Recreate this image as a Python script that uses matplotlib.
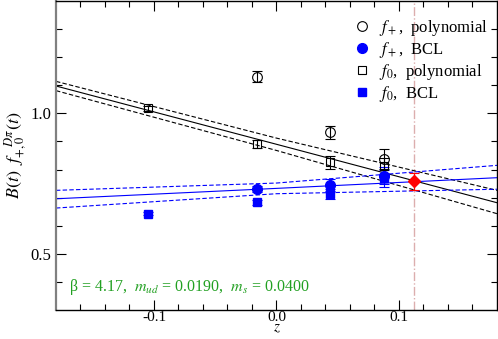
"""Form factors f_+ and f_0 vs z: polynomial and BCL fits at beta=4.17."""

import matplotlib

matplotlib.use("Agg")
import matplotlib.pyplot as plt
from matplotlib.lines import Line2D

plt.rcParams["font.family"] = ["Liberation Serif", "DejaVu Serif"]
plt.rcParams["mathtext.fontset"] = "stix"

# data points
z_fp = [-0.016, 0.044, 0.088]
fp_poly = [1.131, 0.933, 0.838]
fp_poly_err = [0.020, 0.023, 0.035]
fp_bcl = [0.730, 0.745, 0.778]
fp_bcl_err = [0.010, 0.020, 0.030]

z_f0 = [-0.105, -0.016, 0.044, 0.088]
f0_poly = [1.018, 0.890, 0.826, 0.812]
f0_poly_err = [0.010, 0.015, 0.024, 0.030]
f0_bcl = [0.643, 0.683, 0.714, 0.769]
f0_bcl_err = [0.006, 0.008, 0.018, 0.030]

z_phys = 0.112
f_phys = 0.758
f_phys_err = 0.029

# fit curves with error bands
z_fit = [-0.18, 0.0, 0.18]
poly_mid = [1.0975, 0.890, 0.682]
poly_hi = [1.114, 0.912, 0.726]
poly_lo = [1.081, 0.868, 0.643]
bcl_mid = [0.696, 0.733, 0.771]
bcl_hi = [0.726, 0.752, 0.815]
bcl_lo = [0.663, 0.714, 0.730]

fig = plt.figure(figsize=(4.98, 3.39), dpi=100)
ax = fig.add_axes([0.1124, 0.0855, 0.8855, 0.9115])

ax.axvline(z_phys, color="#dcaeae", lw=1.0, ls="-.")

ax.plot(z_fit, poly_mid, color="black", lw=0.8)
ax.plot(z_fit, poly_hi, color="black", lw=0.8, ls=(0, (4, 2)))
ax.plot(z_fit, poly_lo, color="black", lw=0.8, ls=(0, (4, 2)))
ax.plot(z_fit, bcl_mid, color="blue", lw=0.8)
ax.plot(z_fit, bcl_hi, color="blue", lw=0.8, ls=(0, (4, 2)))
ax.plot(z_fit, bcl_lo, color="blue", lw=0.8, ls=(0, (4, 2)))

ekw = dict(ls="none", elinewidth=0.8, capsize=3.5, capthick=0.8)
ax.errorbar(z_fp, fp_poly, yerr=fp_poly_err, marker="o", ms=7, mfc="none",
            mec="black", mew=0.8, color="black", **ekw)
ax.errorbar(z_fp, fp_bcl, yerr=fp_bcl_err, marker="o", ms=7, mfc="blue",
            mec="blue", color="blue", **ekw)
ax.errorbar(z_f0, f0_poly, yerr=f0_poly_err, marker="s", ms=6, mfc="none",
            mec="black", mew=0.8, color="black", **ekw)
ax.errorbar(z_f0, f0_bcl, yerr=f0_bcl_err, marker="s", ms=6, mfc="blue",
            mec="blue", color="blue", **ekw)
ax.errorbar([z_phys], [f_phys], yerr=[f_phys_err], marker="D", ms=6,
            mfc="red", mec="red", color="red", **ekw)

handles = [
    Line2D([], [], ls="none", marker="o", ms=7, mfc="none", mec="black", mew=0.8),
    Line2D([], [], ls="none", marker="o", ms=7, mfc="blue", mec="blue"),
    Line2D([], [], ls="none", marker="s", ms=6, mfc="none", mec="black", mew=0.8),
    Line2D([], [], ls="none", marker="s", ms=6, mfc="blue", mec="blue"),
]
labels = [r"$f_+$,  polynomial", r"$f_+$,  BCL", r"$f_0$,  polynomial", r"$f_0$,  BCL"]

ax.set_xlim(-0.18, 0.18)
ax.set_ylim(0.3, 1.4)
ax.set_xticks([-0.1, 0.0, 0.1])
ax.set_xticklabels(["-0.1", "0.0", "0.1"])
ax.set_xticks([x / 100 for x in range(-16, 18, 2)], minor=True)
ax.set_yticks([0.5, 1.0])
ax.set_yticklabels(["0.5", "1.0"])
ax.set_yticks([y / 10 for y in range(4, 14)], minor=True)
ax.tick_params(which="both", direction="in", top=True, right=True,
               labelsize=12, width=0.8)
ax.tick_params(which="major", length=7)
ax.tick_params(which="minor", length=4)
ax.tick_params(axis="x", pad=1, labelsize=11)
for lab in ax.get_xticklabels() + ax.get_yticklabels():
    lab.set_family("Liberation Serif")
for s in ax.spines.values():
    s.set_linewidth(1.0)
ax.spines["left"].set_color("#808080")
ax.spines["left"].set_linewidth(1.6)

ax.set_xlabel(r"$z$", fontsize=11, labelpad=-2)
ax.set_ylabel(r"$B(t)\ \ f_{+,0}^{\ \ \ D\pi}(t)$", fontsize=13, labelpad=1)

ax.text(0.03, 0.06,
        r"β = 4.17,  $m_{ud}$ = 0.0190,  $m_s$ = 0.0400",
        transform=ax.transAxes, color="#22a022", fontsize=11.5)

ax.legend(handles, labels, loc="upper right", bbox_to_anchor=(1.018, 1.0),
          frameon=False, fontsize=12, handletextpad=0.3, labelspacing=0.12,
          handlelength=1.5, borderaxespad=0.6)

fig.savefig("out.png", dpi=100)
